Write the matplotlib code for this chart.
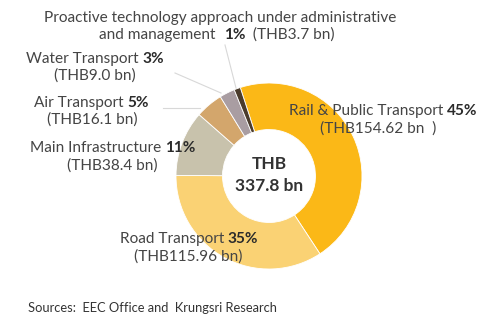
import matplotlib
matplotlib.use("Agg")
import matplotlib.pyplot as plt
from matplotlib.offsetbox import TextArea, HPacker, AnnotationBbox

categories = ["Rail & Public Transport", "Road Transport", "Main Infrastructure",
              "Air Transport", "Water Transport",
              "Proactive technology approach under administrative and management"]
values = [154.62, 115.96, 38.4, 16.1, 9.0, 3.7]
pct_labels = ["45%", "35%", "11%", "5%", "3%", "1%"]
amount_labels = ["(THB154.62 bn  )", "(THB115.96 bn)", "(THB38.4 bn)",
                 "(THB16.1 bn)", "(THB9.0 bn)", "(THB3.7 bn)"]
colors = ["#FBB817", "#FAD274", "#C8C2AC", "#D3A66C", "#A99DA2", "#4A3B2B"]
total_label = ["THB", "337.8 bn"]
source = "Sources:  EEC Office and  Krungsri Research"

W, H = 482, 318
fig = plt.figure(figsize=(W / 100, H / 100), dpi=100)
FONT = "Lato"
TC = "#454545"
FS = 11.1

cx, cy, R = 269, 176, 93
ax = fig.add_axes([(cx - R) / W, (H - cy - R) / H, 2 * R / W, 2 * R / H])
ax.pie(values, colors=colors, startangle=108, counterclock=False, radius=1.0,
       wedgeprops=dict(width=0.5, edgecolor="white", linewidth=0.6))
ax.set_xlim(-1, 1)
ax.set_ylim(-1, 1)
ax.set_aspect("equal")
ax.axis("off")

ax.text(0, 0.13, total_label[0], ha="center", va="center", fontsize=12.5,
        family=FONT, color="#333333", fontweight="bold")
ax.text(0, -0.11, total_label[1], ha="center", va="center", fontsize=12.5,
        family=FONT, color="#333333", fontweight="bold")


def fpx(x, y):
    return (x / W, 1 - y / H)


def rich(x, y, parts):
    boxes = []
    for txt, bold in parts:
        boxes.append(TextArea(txt, textprops=dict(family=FONT, fontsize=FS,
                                                  color="#2b2b2b" if bold else TC,
                                                  fontweight="bold" if bold else "normal")))
    pack = HPacker(children=boxes, align="baseline", pad=0, sep=0)
    ab = AnnotationBbox(pack, fpx(x, y), xycoords="figure fraction",
                        frameon=False, box_alignment=(0.5, 0.5), pad=0)
    fig.add_artist(ab)


def plain(x, y, txt):
    fig.text(*fpx(x, y), txt, ha="center", va="center", family=FONT,
             fontsize=FS, color=TC)


# leader lines (figure pixel coords)
def leader(x0, y0, x1, y1):
    fig.add_artist(plt.Line2D([x0 / W, x1 / W], [1 - y0 / H, 1 - y1 / H],
                              color="#d8d8d8", linewidth=0.8))


leader(225, 45, 236, 88)
leader(175, 73, 221, 93)
leader(163, 108, 200, 108)

# Proactive
plain(220, 18, "Proactive technology approach under administrative")
rich(217, 35, [("and management  ", False), (pct_labels[5], True), ("  " + amount_labels[5], False)])
# Water
rich(95, 59, [(categories[4] + " ", False), (pct_labels[4], True)])
plain(95, 76, amount_labels[4])
# Air
rich(91, 103, [(categories[3] + " ", False), (pct_labels[3], True)])
plain(92, 120, amount_labels[3])
# Main
rich(113, 148, [(categories[2] + " ", False), (pct_labels[2], True)])
plain(112, 166, amount_labels[2])
# Rail
rich(383, 111, [(categories[0] + " ", False), (pct_labels[0], True)])
plain(378, 129, amount_labels[0])
# Road
rich(189, 239, [(categories[1] + " ", False), (pct_labels[1], True)])
plain(188, 257, amount_labels[1])

fig.text(28 / W, 1 - 308 / H, source, ha="left", va="center", family=FONT,
         fontsize=9.3, color="#333333")

fig.savefig("out.png", dpi=100)
